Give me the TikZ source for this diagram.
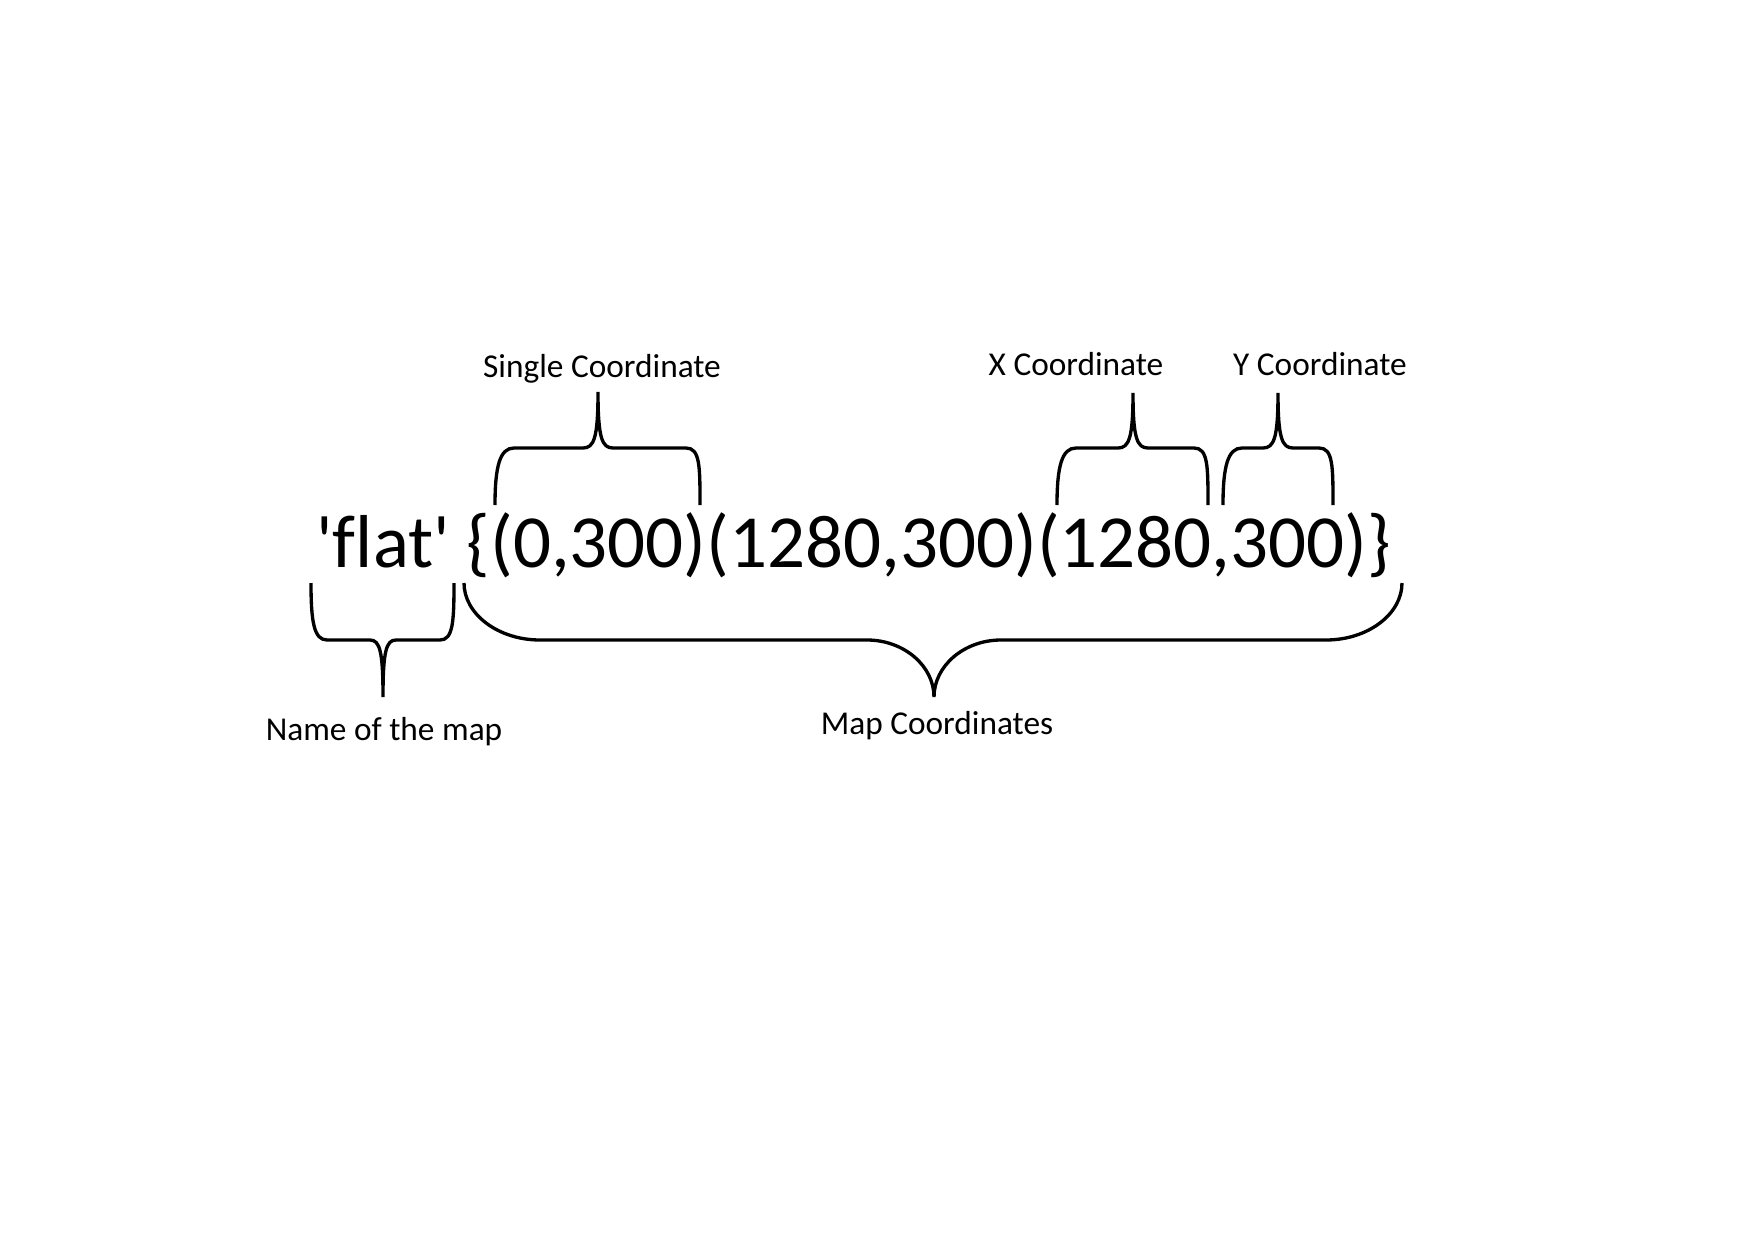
\documentclass[tikz,border=0pt]{standalone}
\usepackage{fontspec}
\setmainfont{Carlito}
\begin{document}
\begin{tikzpicture}[x=0.48pt,y=-0.48pt,
  big/.style={font=\fontsize{36}{40}\selectfont\addfontfeatures{Ligatures=NoCommon}, inner sep=0pt},
  lbl/.style={font=\fontsize{16}{19}\selectfont, inner sep=0pt},
  brace/.style={line width=1.6pt, black}]
\useasboundingbox[fill=white] (0,0) rectangle (1754,1240);

% main code line
\node[big, anchor=base west] (code) at (316,567)
  {\textquotesingle flat\textquotesingle\ \{(0,300)(1280,300)(1280,300)\}};

% labels
\node[lbl, anchor=base] (single) at (602,377) {Single Coordinate};
\node[lbl, anchor=base] (xc) at (1076,375) {X Coordinate};
\node[lbl, anchor=base] (yc) at (1320,375) {Y Coordinate};
\node[lbl, anchor=base] (name) at (384,740) {Name of the map};
\node[lbl, anchor=base] (mapc) at (937,734) {Map Coordinates};

% upper braces
\draw[brace] (495,505) .. controls (495,466) and (500,448) .. (514,448)
  -- (583,448) .. controls (594,448) and (598,438) .. (598,392)
  .. controls (598,438) and (602,448) .. (613,448)
  -- (686,448) .. controls (700,448) and (700,466) .. (700,505);

\draw[brace] (1057,505) .. controls (1057,466) and (1062,448) .. (1076,448)
  -- (1118,448) .. controls (1129,448) and (1133,438) .. (1133,393)
  .. controls (1133,438) and (1137,448) .. (1148,448)
  -- (1194,448) .. controls (1208,448) and (1208,466) .. (1208,505);

\draw[brace] (1223,505) .. controls (1223,466) and (1228,448) .. (1242,448)
  -- (1263,448) .. controls (1274,448) and (1278,438) .. (1278,393)
  .. controls (1278,438) and (1282,448) .. (1293,448)
  -- (1319,448) .. controls (1333,448) and (1333,466) .. (1333,505);

% lower braces
\draw[brace] (311,583) .. controls (311,622) and (314,640) .. (327,640)
  -- (370,640) .. controls (380,640) and (383,652) .. (383,697)
  .. controls (383,652) and (386,640) .. (396,640)
  -- (440,640) .. controls (453,640) and (454,622) .. (454,583);

\draw[brace] (464,583) .. controls (464,614) and (498,640) .. (540,640)
  -- (867,640) .. controls (904,640) and (934,666) .. (934,697)
  .. controls (934,666) and (964,640) .. (1001,640)
  -- (1326,640) .. controls (1368,640) and (1402,614) .. (1402,583);
\end{tikzpicture}
\end{document}
